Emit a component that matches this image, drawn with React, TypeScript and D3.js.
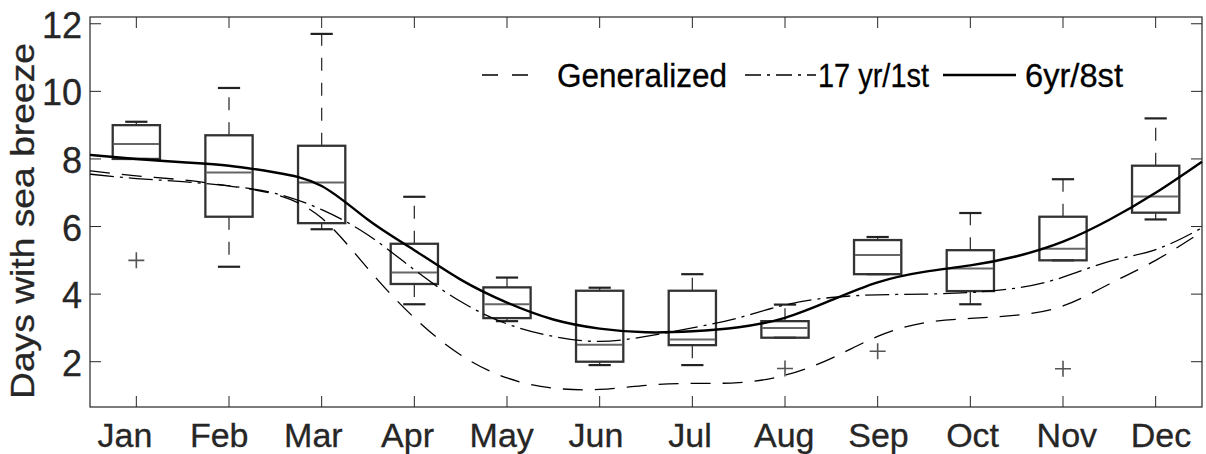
import React, { useEffect, useRef } from 'react';
import * as d3 from 'd3';

const months = ['Jan', 'Feb', 'Mar', 'Apr', 'May', 'Jun', 'Jul', 'Aug', 'Sep', 'Oct', 'Nov', 'Dec'];

// boxplot stats per month
const q1 = [8.0, 6.29, 6.1, 4.3, 3.29, 2.0, 2.49, 2.71, 4.59, 4.09, 5.0, 6.41];
const medians = [8.44, 7.6, 7.3, 4.64, 3.7, 2.5, 2.66, 3.0, 5.16, 4.76, 5.34, 6.89];
const q3 = [9.0, 8.7, 8.39, 5.49, 4.2, 4.1, 4.1, 3.2, 5.6, 5.3, 6.29, 7.8];
const whiskLo = [8.0, 4.81, 5.92, 3.7, 3.2, 1.9, 1.9, 2.71, 4.59, 3.7, 5.0, 6.21];
const whiskHi = [9.1, 10.1, 11.7, 6.88, 4.49, 4.19, 4.59, 3.69, 5.69, 6.4, 7.4, 9.2];
// outliers: [month index, value]
const outliers: [number, number][] = [[1, 5.0], [8, 1.8], [9, 2.31], [11, 1.79]];

// fitted curves, sampled every half month
const curvePos = [0.5, 1, 1.5, 2, 2.5, 3, 3.5, 4, 4.5, 5, 5.5, 6, 6.5, 7, 7.5, 8, 8.5, 9, 9.5, 10, 10.5, 11, 11.5, 12, 12.5];
const generalized = [7.65, 7.5, 7.38, 7.2, 6.95, 6.25, 4.75, 3.3, 2.2, 1.52, 1.22, 1.18, 1.3, 1.36, 1.38, 1.6, 2.1, 2.75, 3.15, 3.28, 3.38, 3.65, 4.3, 5.0, 5.85];
const yr17 = [7.55, 7.42, 7.33, 7.2, 6.98, 6.5, 5.75, 4.72, 3.78, 3.12, 2.75, 2.6, 2.75, 3.0, 3.3, 3.68, 3.9, 3.98, 4.0, 4.05, 4.18, 4.5, 4.97, 5.32, 5.96];
const yr6 = [8.12, 8.0, 7.9, 7.8, 7.6, 7.2, 6.2, 5.3, 4.43, 3.75, 3.25, 2.98, 2.87, 2.9, 3.02, 3.3, 3.82, 4.35, 4.66, 4.85, 5.12, 5.55, 6.2, 7.0, 7.92];

const yTicks = [2, 4, 6, 8, 10, 12];

const W = 1206, H = 454;
const left = 90, right = 1202, top = 17, bottom = 407;
const ink = '#262626';
const font = 'Arial, "Liberation Sans", Helvetica, sans-serif';

export default function App() {
    const ref = useRef<SVGSVGElement>(null);

    useEffect(() => {
        const svg = d3.select(ref.current);
        svg.selectAll('*').remove();

        const x = d3.scaleLinear().domain([0.5, 12.5]).range([left, right]);
        const y = d3.scaleLinear().domain([0.66, 12.2]).range([bottom, top]);
        // month labels sit a bit wider apart than the ticks in the original
        const xLab = d3.scaleLinear().domain([1, 12]).range([125, 1161]);

        svg.append('rect').attr('width', W).attr('height', H).attr('fill', '#fff');

        const g = svg.append('g');

        // frame + ticks (inward, on all four sides)
        g.append('rect')
            .attr('x', left).attr('y', top)
            .attr('width', right - left).attr('height', bottom - top)
            .attr('fill', 'none').attr('stroke', ink).attr('stroke-width', 1.2);

        const tl = 11;
        months.forEach((m, i) => {
            const xx = x(i + 1);
            g.append('line').attr('x1', xx).attr('x2', xx).attr('y1', bottom).attr('y2', bottom - tl).attr('stroke', ink).attr('stroke-width', 1);
            g.append('line').attr('x1', xx).attr('x2', xx).attr('y1', top).attr('y2', top + tl).attr('stroke', ink).attr('stroke-width', 1);
            g.append('text')
                .attr('x', xLab(i + 1)).attr('y', 447)
                .attr('text-anchor', 'middle')
                .attr('font-family', font).attr('font-size', 34)
                .attr('fill', ink).attr('stroke', ink).attr('stroke-width', 0.3)
                .text(m);
        });
        yTicks.forEach(t => {
            const yy = y(t);
            g.append('line').attr('x1', left).attr('x2', left + tl).attr('y1', yy).attr('y2', yy).attr('stroke', ink).attr('stroke-width', 1);
            g.append('line').attr('x1', right).attr('x2', right - tl).attr('y1', yy).attr('y2', yy).attr('stroke', ink).attr('stroke-width', 1);
            g.append('text')
                .attr('x', 82).attr('y', yy + 14)
                .attr('text-anchor', 'end')
                .attr('font-family', font).attr('font-size', 36)
                .attr('fill', ink).attr('stroke', ink).attr('stroke-width', 0.3)
                .text(t);
        });

        g.append('text')
            .attr('transform', 'translate(34,221) rotate(-90)')
            .attr('text-anchor', 'middle')
            .attr('font-family', font).attr('font-size', 34)
            .attr('textLength', 356).attr('lengthAdjust', 'spacingAndGlyphs')
            .attr('fill', ink).attr('stroke', ink).attr('stroke-width', 0.3)
            .text('Days with sea breeze');

        // boxplots
        const bw = 0.255; // half box width, in months
        const cw = 0.12;  // half cap width
        const boxes = g.append('g');
        months.forEach((m, i) => {
            const c = i + 1;
            const xc = x(c);
            // whiskers (dashed like matlab)
            [[q3[i], whiskHi[i]], [q1[i], whiskLo[i]]].forEach(([a, b]) => {
                if (Math.abs(a - b) < 0.01) return;
                boxes.append('line')
                    .attr('x1', xc).attr('x2', xc).attr('y1', y(a)).attr('y2', y(b))
                    .attr('stroke', '#333').attr('stroke-width', 1.3)
                    .attr('stroke-dasharray', '13,12');
            });
            [whiskHi[i], whiskLo[i]].forEach(v => {
                boxes.append('line')
                    .attr('x1', x(c - cw)).attr('x2', x(c + cw)).attr('y1', y(v)).attr('y2', y(v))
                    .attr('stroke', '#222').attr('stroke-width', 2.2);
            });
            boxes.append('rect')
                .attr('x', x(c - bw)).attr('y', y(q3[i]))
                .attr('width', x(c + bw) - x(c - bw)).attr('height', y(q1[i]) - y(q3[i]))
                .attr('fill', 'none').attr('stroke', '#333').attr('stroke-width', 2.3);
            boxes.append('line')
                .attr('x1', x(c - bw) + 1).attr('x2', x(c + bw) - 1)
                .attr('y1', y(medians[i])).attr('y2', y(medians[i]))
                .attr('stroke', '#666').attr('stroke-width', 2);
        });

        outliers.forEach(([c, v]) => {
            const xc = x(c), yc = y(v), s = 8;
            boxes.append('path')
                .attr('d', `M${xc - s},${yc}H${xc + s}M${xc},${yc - s}V${yc + s}`)
                .attr('stroke', '#555').attr('stroke-width', 1.6).attr('fill', 'none');
        });

        // fitted curves
        const line = d3.line<number>()
            .x((d, i) => x(curvePos[i]))
            .y(d => y(d))
            .curve(d3.curveNatural);

        const series = [
            { name: 'Generalized', vals: generalized, dash: '20,12', dashLeg: '16,14', w: 1.3 },
            { name: '17 yr/1st', vals: yr17, dash: '24,6,3,6', dashLeg: '16,6,3,6', w: 1.3 },
            { name: '6yr/8st', vals: yr6, dash: null, dashLeg: null, w: 2.4 },
        ];

        series.forEach(s => {
            g.append('path')
                .attr('d', line(s.vals))
                .attr('fill', 'none')
                .attr('stroke', '#000')
                .attr('stroke-width', s.w)
                .attr('stroke-dasharray', s.dash);
        });

        // legend: [line start, line end, text x, text width]
        const legX = [[482, 540, 557, 170], [745, 816, 818, 111], [943, 1016, 1025, 98]];
        const ly = 75;
        series.forEach((s, i) => {
            const [a, b, tx, tw] = legX[i];
            g.append('line')
                .attr('x1', a).attr('x2', b).attr('y1', ly).attr('y2', ly)
                .attr('stroke', '#000').attr('stroke-width', s.w)
                .attr('stroke-dasharray', s.dashLeg);
            g.append('text')
                .attr('x', tx).attr('y', 87)
                .attr('font-family', font).attr('font-size', 33)
                .attr('textLength', tw).attr('lengthAdjust', 'spacingAndGlyphs')
                .attr('fill', '#000').attr('stroke', '#000').attr('stroke-width', 0.3)
                .text(s.name);
        });
    }, []);

    return (
        <svg ref={ref} width={W} height={H} style={{ position: 'absolute', left: 0, top: 0, display: 'block' }}></svg>
    );
}
